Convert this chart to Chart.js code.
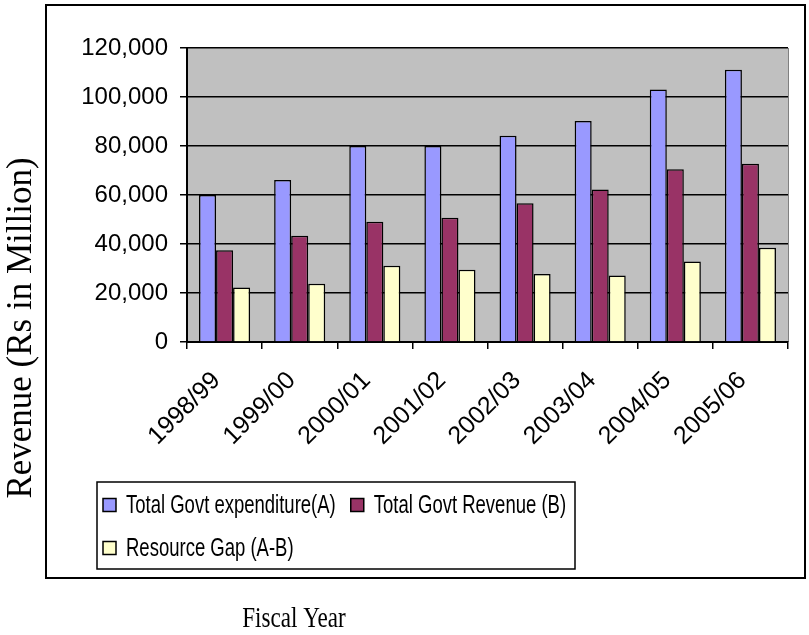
<!DOCTYPE html>
<html>
<head>
<meta charset="utf-8">
<script src="https://cdn.jsdelivr.net/npm/chart.js@4"></script>
<style>
  html, body { margin: 0; padding: 0; background: #fff; overflow: hidden; }
  #wrap { width: 809px; height: 635px; }
</style>
</head>
<body>
<div id="wrap"><canvas id="gapChart"></canvas></div>
<script>
const years = ['1998/99', '1999/00', '2000/01', '2001/02', '2002/03', '2003/04', '2004/05', '2005/06'];
const seriesNames = ['Total Govt expenditure(A)', 'Total Govt Revenue (B)', 'Resource Gap (A-B)'];
const expenditure = [60000, 66100, 80000, 80000, 84200, 90200, 103100, 111100];
const revenue = [37500, 43400, 49100, 50700, 56600, 62200, 70500, 72800];
const gap = [22200, 23800, 31100, 29500, 27800, 27100, 32900, 38500];
const yTitle = 'Revenue (Rs in Million)';
const xTitle = 'Fiscal Year';

const sans = '"Liberation Sans", Arial, sans-serif';
const serif = '"Liberation Serif", "Times New Roman", serif';

Chart.defaults.color = '#000';

// grey fill behind the bars
const plotBg = {
  id: 'plotBg',
  beforeDraw(chart) {
    const { ctx, chartArea: a } = chart;
    ctx.save();
    ctx.fillStyle = '#c0c0c0';
    ctx.fillRect(a.left, a.top, a.right - a.left, a.bottom - a.top);
    ctx.strokeStyle = '#808080';
    ctx.lineWidth = 1;
    ctx.beginPath();
    ctx.moveTo(a.right + 0.5, a.top);
    ctx.lineTo(a.right + 0.5, a.bottom);
    ctx.stroke();
    ctx.restore();
  }
};

// legend in a box, two entries on the first row; text is drawn condensed
const boxedLegend = {
  id: 'boxedLegend',
  afterDraw(chart) {
    const { ctx } = chart;
    const sets = chart.data.datasets;
    const squeeze = 0.74;
    ctx.save();
    ctx.strokeStyle = '#000';
    ctx.lineWidth = 1.5;
    ctx.strokeRect(97, 482, 478, 87);
    ctx.font = '25px ' + sans;
    ctx.textBaseline = 'middle';
    let x = 103;
    let y = 505;
    sets.forEach((ds, i) => {
      if (i === 2) { x = 103; y = 548; }
      ctx.fillStyle = ds.backgroundColor;
      ctx.fillRect(x, y - 6.5, 13, 13);
      ctx.strokeStyle = '#000';
      ctx.lineWidth = 1.5;
      ctx.strokeRect(x, y - 6.5, 13, 13);
      const tx = x + 23;
      const w = ctx.measureText(ds.label).width * squeeze;
      ctx.save();
      ctx.translate(tx, y + 1);
      ctx.scale(squeeze, 1);
      ctx.fillStyle = '#000';
      ctx.fillText(ds.label, 0, 0);
      ctx.restore();
      x = tx + w + 15;
    });
    ctx.restore();
  }
};

// outer frame and the two axis titles
const frame = {
  id: 'frame',
  afterDraw(chart) {
    const { ctx } = chart;
    ctx.save();
    ctx.strokeStyle = '#000';
    ctx.lineWidth = 2;
    ctx.strokeRect(46, 5, 759, 573);

    ctx.fillStyle = '#000';
    ctx.textAlign = 'center';
    ctx.textBaseline = 'middle';
    ctx.font = '35px ' + serif;
    ctx.translate(22, 328);
    ctx.rotate(-Math.PI / 2);
    ctx.fillText(yTitle, 0, 0);
    ctx.restore();

    ctx.save();
    ctx.fillStyle = '#000';
    ctx.textAlign = 'center';
    ctx.textBaseline = 'alphabetic';
    ctx.font = '30px ' + serif;
    ctx.translate(294, 627);
    ctx.scale(0.77, 1);
    ctx.fillText(xTitle, 0, 0);
    ctx.restore();
  }
};

new Chart(document.getElementById('gapChart'), {
  type: 'bar',
  data: {
    labels: years,
    datasets: [
      { label: seriesNames[0], data: expenditure, backgroundColor: '#9999ff', borderColor: '#000', borderWidth: 1.5 },
      { label: seriesNames[1], data: revenue, backgroundColor: '#993366', borderColor: '#000', borderWidth: 1.5 },
      { label: seriesNames[2], data: gap, backgroundColor: '#ffffcc', borderColor: '#000', borderWidth: 1.5 }
    ]
  },
  options: {
    responsive: true,
    maintainAspectRatio: false,
    animation: false,
    devicePixelRatio: 1,
    layout: { padding: { left: 81, right: 21, top: 48, bottom: 159 } },
    datasets: { bar: { categoryPercentage: 0.68, barPercentage: 1 } },
    plugins: {
      legend: { display: false },
      tooltip: { enabled: false }
    },
    scales: {
      x: {
        grid: { drawOnChartArea: false, tickLength: 7, color: '#000', lineWidth: 1.5 },
        border: { color: '#000', width: 2 },
        ticks: {
          font: { family: sans, size: 25 },
          color: '#000',
          minRotation: 45,
          maxRotation: 45,
          autoSkip: false,
          padding: 17,
          labelOffset: -8
        },
        afterFit(scale) { scale.height = 134; }
      },
      y: {
        min: 0,
        max: 120000,
        ticks: { stepSize: 20000, font: { family: sans, size: 24 }, color: '#000', padding: 12 },
        grid: { color: '#000', lineWidth: 1.5, tickLength: 7 },
        border: { color: '#000', width: 2 },
        afterFit(scale) { scale.width = 106; }
      }
    }
  },
  plugins: [plotBg, boxedLegend, frame]
});
</script>
</body>
</html>
